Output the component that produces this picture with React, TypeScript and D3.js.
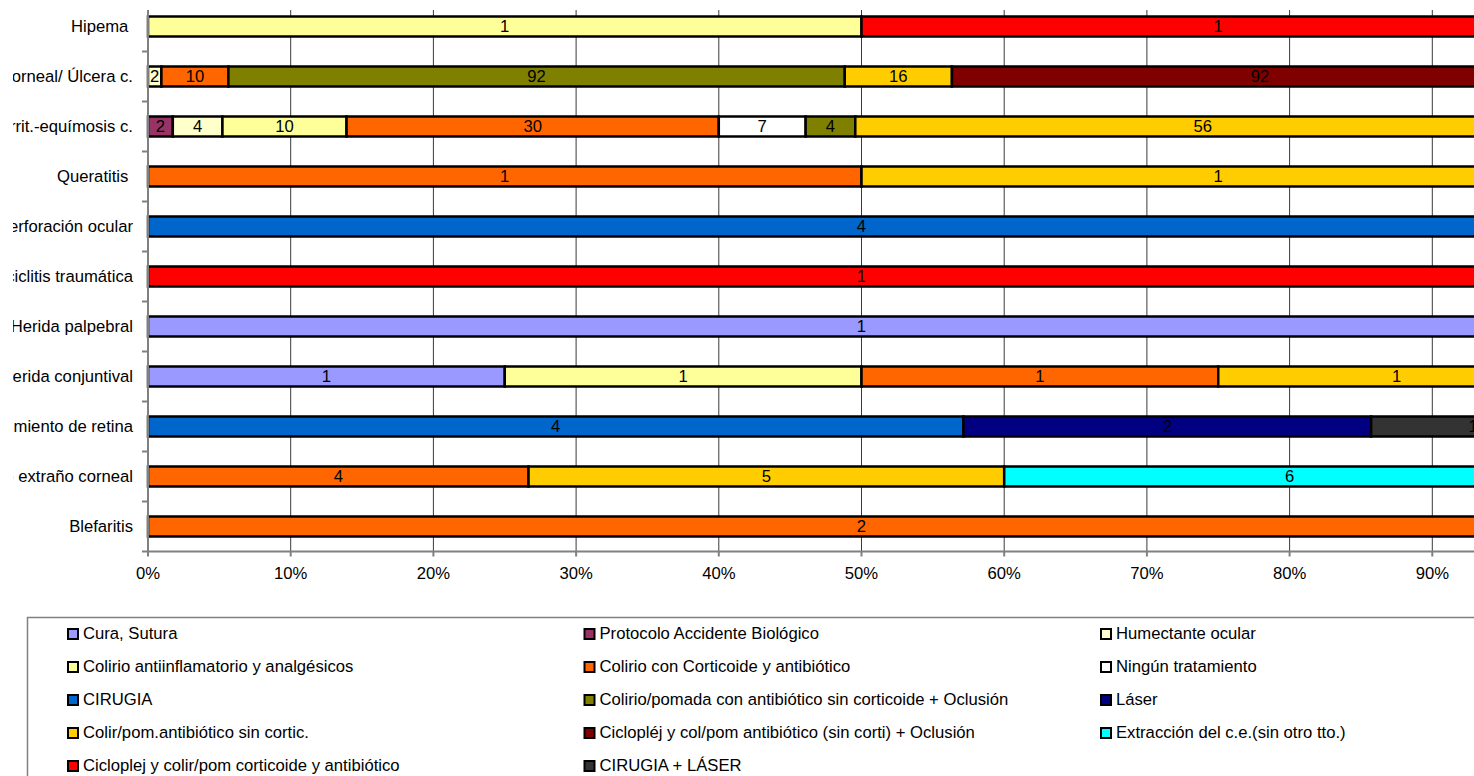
import React from "react";
import * as d3 from "d3";

// Diagnoses, top to bottom
const categories = [
  "Hipema ",
  "Erosión corneal/ Úlcera c.",
  "Irrit.-equímosis c.",
  "Queratitis ",
  "Perforación ocular",
  "Iridociclitis traumática",
  "Herida palpebral",
  "Herida conjuntival",
  "Desprendimiento de retina",
  "Cuerpo extraño corneal",
  "Blefaritis",
];

// Treatments (stack order = legend order)
const seriesNames = [
  "Cura, Sutura",
  "Protocolo Accidente Biológico",
  "Humectante ocular",
  "Colirio antiinflamatorio y analgésicos",
  "Colirio con Corticoide y antibiótico",
  "Ningún tratamiento",
  "CIRUGIA",
  "Colirio/pomada con antibiótico sin corticoide + Oclusión",
  "Láser",
  "Colir/pom.antibiótico sin cortic.",
  "Ciclopléj y col/pom antibiótico (sin corti) + Oclusión",
  "Extracción del c.e.(sin otro tto.)",
  "Cicloplej y colir/pom corticoide y antibiótico",
  "CIRUGIA + LÁSER",
];

const seriesColors = [
  "#9999FF",
  "#993366",
  "#FFFFCC",
  "#FFFF99",
  "#FF6600",
  "#FFFFFF",
  "#0066CC",
  "#808000",
  "#000080",
  "#FFCC00",
  "#800000",
  "#00FFFF",
  "#FF0000",
  "#333333",
];

// Case counts per treatment, in category order
const curaSutura = [0, 0, 0, 0, 0, 0, 1, 1, 0, 0, 0];
const protocoloAccidente = [0, 0, 2, 0, 0, 0, 0, 0, 0, 0, 0];
const humectante = [0, 2, 4, 0, 0, 0, 0, 0, 0, 0, 0];
const colirioAntiinflamatorio = [1, 0, 10, 0, 0, 0, 0, 1, 0, 0, 0];
const colirioCorticoide = [0, 10, 30, 1, 0, 0, 0, 1, 0, 4, 2];
const ningunTratamiento = [0, 0, 7, 0, 0, 0, 0, 0, 0, 0, 0];
const cirugia = [0, 0, 0, 0, 4, 0, 0, 0, 4, 0, 0];
const colPomadaOclusion = [0, 92, 4, 0, 0, 0, 0, 0, 0, 0, 0];
const laser = [0, 0, 0, 0, 0, 0, 0, 0, 2, 0, 0];
const colPomAntibiotico = [0, 16, 56, 1, 0, 0, 0, 1, 0, 5, 0];
const cicloplejOclusion = [0, 92, 0, 0, 0, 0, 0, 0, 0, 0, 0];
const extraccionCE = [0, 0, 0, 0, 0, 0, 0, 0, 0, 6, 0];
const cicloplejCorticoide = [1, 1, 2, 0, 0, 1, 0, 0, 0, 0, 0];
const cirugiaLaser = [0, 0, 0, 0, 0, 0, 0, 0, 1, 0, 0];

const seriesValues = [
  curaSutura,
  protocoloAccidente,
  humectante,
  colirioAntiinflamatorio,
  colirioCorticoide,
  ningunTratamiento,
  cirugia,
  colPomadaOclusion,
  laser,
  colPomAntibiotico,
  cicloplejOclusion,
  extraccionCE,
  cicloplejCorticoide,
  cirugiaLaser,
];

const tickValues = [0, 0.1, 0.2, 0.3, 0.4, 0.5, 0.6, 0.7, 0.8, 0.9, 1];

const W = 1474;
const H = 776;
const FONT = "Arial, 'Liberation Sans', sans-serif";
const FS = 16.67;

export default function App() {
  const keys = seriesNames.map((_, i) => `s${i}`);
  const rows = categories.map((c, ci) => {
    const r: Record<string, any> = { category: c };
    seriesValues.forEach((vals, si) => (r[`s${si}`] = vals[ci]));
    return r;
  });

  const stacked = d3
    .stack<Record<string, any>>()
    .keys(keys)
    .offset(d3.stackOffsetExpand)(rows);

  const x = d3.scaleLinear().domain([0, 1]).range([148, 1575]);
  const y = d3
    .scaleBand<string>()
    .domain(categories)
    .range([1.5, 551.5])
    .paddingInner(0.6)
    .paddingOuter(0.3);

  const step = y.step();
  const plotTop = 10;
  const plotBottom = 551.5;
  const boundaries = d3.range(1, categories.length + 1).map((k) => 1.5 + k * step);

  const legendCols = [68, 584.5, 1101];
  const legendRow0 = 639;
  const legendRowStep = 33;

  return (
    <div
      style={{
        position: "fixed",
        left: 0,
        top: 0,
        width: W,
        height: H,
        overflow: "hidden",
        background: "#fff",
      }}
    >
      <svg width={W} height={H} style={{ display: "block", fontFamily: FONT }}>
        <defs>
          <clipPath id="labelClip">
            <rect x={13} y={0} width={W} height={H} />
          </clipPath>
        </defs>
        <rect x={0} y={0} width={W} height={H} fill="#fff" />

        {/* vertical gridlines */}
        {tickValues.slice(1).map((t) => (
          <line
            key={`g${t}`}
            x1={x(t)}
            x2={x(t)}
            y1={plotTop}
            y2={plotBottom}
            stroke="#3a3a3a"
            strokeWidth={1}
          />
        ))}

        {/* stacked bars */}
        {stacked.map((layer, si) =>
          layer.map((d, ci) => {
            const v = seriesValues[si][ci];
            if (!v) return null;
            const x0 = x(d[0]);
            const x1 = x(d[1]);
            return (
              <rect
                key={`b${si}-${ci}`}
                x={x0}
                y={y(categories[ci])}
                width={x1 - x0}
                height={y.bandwidth()}
                fill={seriesColors[si]}
                stroke="#000"
                strokeWidth={2.5}
              />
            );
          })
        )}

        {/* value labels */}
        {stacked.map((layer, si) =>
          layer.map((d, ci) => {
            const v = seriesValues[si][ci];
            if (!v) return null;
            const cx = (x(d[0]) + x(d[1])) / 2;
            const cy = (y(categories[ci]) as number) + y.bandwidth() / 2;
            return (
              <text
                key={`l${si}-${ci}`}
                x={cx}
                y={cy + 5.8}
                textAnchor="middle"
                fontSize={FS}
                fill="#000"
              >
                {v}
              </text>
            );
          })
        )}

        {/* axes */}
        <line x1={148} x2={148} y1={plotTop} y2={plotBottom} stroke="#808080" strokeWidth={2} />
        <line x1={147} x2={1575} y1={plotBottom} y2={plotBottom} stroke="#808080" strokeWidth={2} />
        {boundaries.map((b, i) => (
          <line key={`yt${i}`} x1={142} x2={148} y1={b} y2={b} stroke="#808080" strokeWidth={2} />
        ))}
        {tickValues.map((t) => (
          <line
            key={`xt${t}`}
            x1={x(t)}
            x2={x(t)}
            y1={plotBottom}
            y2={plotBottom + 5}
            stroke="#808080"
            strokeWidth={2}
          />
        ))}
        {tickValues.map((t) => (
          <text key={`xl${t}`} x={x(t)} y={579} textAnchor="middle" fontSize={FS} fill="#000">
            {d3.format(".0%")(t)}
          </text>
        ))}

        {/* category labels */}
        <g clipPath="url(#labelClip)">
          {categories.map((c) => (
            <text
              key={`c${c}`}
              x={133}
              y={(y(c) as number) + y.bandwidth() / 2 + 5.8}
              textAnchor="end"
              fontSize={FS}
              fill="#000"
              style={{ whiteSpace: "pre" }}
            >
              {c}
            </text>
          ))}
        </g>

        {/* legend */}
        <rect x={27.5} y={617.5} width={1600} height={300} fill="#fff" stroke="#808080" strokeWidth={1.5} />
        {seriesNames.map((name, i) => {
          const col = i % 3;
          const row = Math.floor(i / 3);
          const lx = legendCols[col];
          const ly = legendRow0 + row * legendRowStep;
          return (
            <g key={`lg${i}`}>
              <rect
                x={lx}
                y={ly - 10}
                width={10}
                height={10}
                fill={seriesColors[i]}
                stroke="#000"
                strokeWidth={2}
              />
              <text x={lx + 15} y={ly} fontSize={FS} fill="#000">
                {name}
              </text>
            </g>
          );
        })}
      </svg>
    </div>
  );
}
